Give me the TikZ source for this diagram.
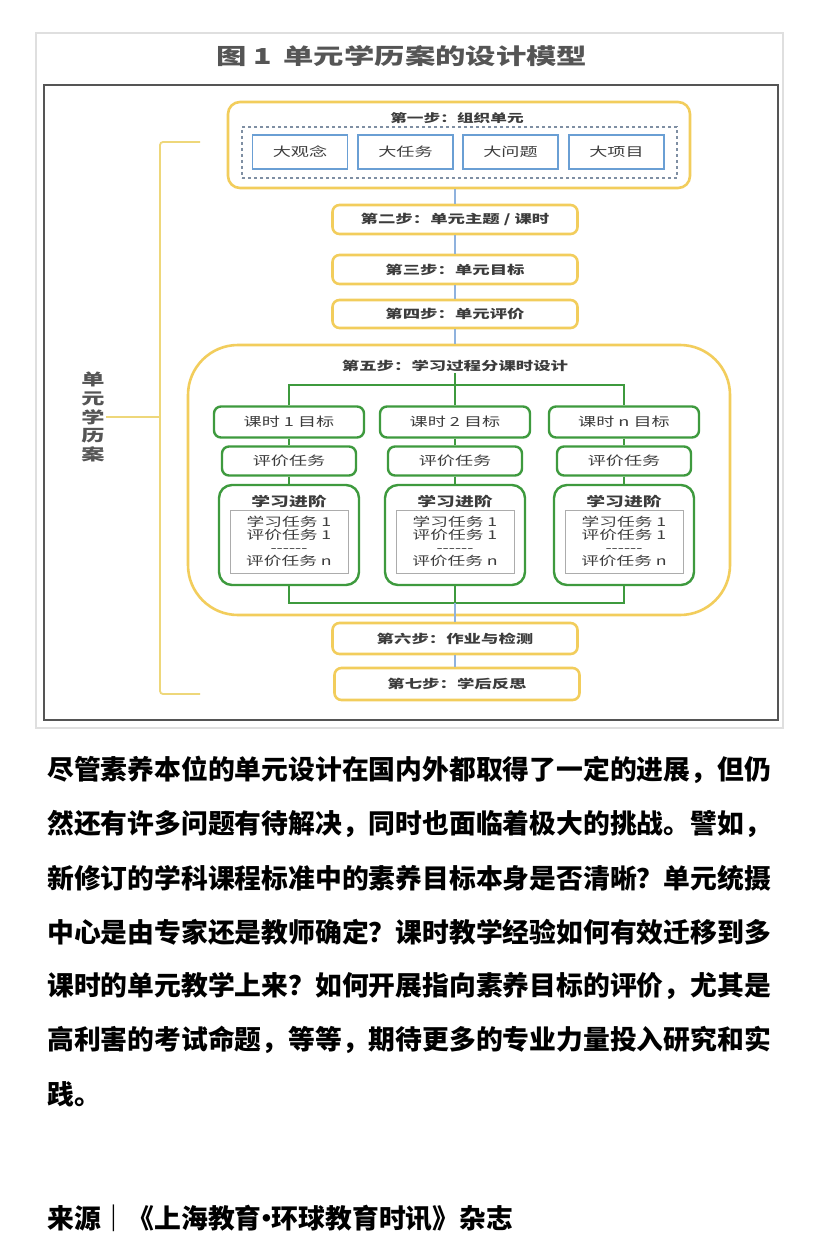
\documentclass[tikz,border=0pt]{standalone}
\usepackage{fontspec}
\newfontfamily\dgfont{Noto Sans CJK SC}[FakeStretch=1.45]
\newfontfamily\ttlfont{Noto Sans CJK SC}[FakeStretch=1.38]
\newfontfamily\txfont{Noto Sans CJK SC}
\definecolor{ylw}{HTML}{F2CD5C}
\definecolor{blu}{HTML}{6A9FD4}
\definecolor{lblu}{HTML}{8FB2DE}
\definecolor{grn}{HTML}{3E9A3E}
\definecolor{dgrey}{HTML}{3C3C3C}
\definecolor{ttlgrey}{HTML}{555555}
\definecolor{brkc}{HTML}{EED77A}
\definecolor{dashc}{HTML}{7F8FA3}
\tikzset{
  stepbox/.style={draw=ylw, line width=2.6pt, rounded corners=7pt, fill=white,
    minimum width=245pt, minimum height=29pt, inner sep=0pt,
    font=\dgfont\bfseries\fontsize{12}{14}\selectfont, text=dgrey},
  steplbl/.style={inner sep=1pt, font=\dgfont\bfseries\fontsize{12}{14}\selectfont, text=dgrey},
  bigbox/.style={draw=blu, line width=1.8pt, fill=white, minimum width=95pt,
    minimum height=34pt, inner sep=0pt, font=\dgfont\fontsize{12.5}{14}\selectfont, text=dgrey},
  gbox/.style={draw=grn, line width=2.4pt, rounded corners=7pt, fill=white,
    minimum width=150pt, minimum height=31pt, inner sep=0pt,
    font=\dgfont\fontsize{12.5}{14}\selectfont, text=dgrey},
  ebox/.style={gbox, minimum width=134pt, minimum height=29pt},
  pbox/.style={draw=grn, line width=2.4pt, rounded corners=13pt, fill=white,
    minimum width=140pt, minimum height=100pt, inner sep=0pt},
  ptitle/.style={inner sep=1pt, font=\dgfont\bfseries\fontsize{13}{15}\selectfont, text=dgrey},
  plist/.style={draw=gray!65, line width=1pt, fill=white, minimum width=118pt,
    minimum height=63pt, inner sep=0pt, align=center,
    font=\dgfont\fontsize{12.2}{12.8}\selectfont, text=dgrey},
  bline/.style={draw=lblu, line width=2.4pt},
  gline/.style={draw=grn, line width=2.5pt},
  brkline/.style={draw=brkc, line width=1.8pt},
  ptext/.style={anchor=west, inner sep=0pt, font=\txfont\bfseries\fontsize{26.8}{30}\selectfont, text=black}
}
\begin{document}
\begin{tikzpicture}[x=1pt,y=-1pt]
\fill[white] (0,0) rectangle (820,1257);
\useasboundingbox (0,0) rectangle (820,1257);

% frames
\draw[draw=gray!25, line width=1.2pt] (36,33) rectangle (783,728);
\draw[draw=ttlgrey, line width=2pt] (44,85) rectangle (778,720);

% title
\node[inner sep=0pt, font=\ttlfont\bfseries\fontsize{22}{24}\selectfont, text=ttlgrey] (title) at (402,56)
  {图\hspace{6pt}1\hspace{12pt}单元学历案的设计模型};

% bracket and side label
\node[inner sep=1pt, align=center, font=\dgfont\bfseries\fontsize{16}{18.6}\selectfont, text=ttlgrey] (lbl) at (93,417)
  {单\\元\\学\\历\\案};
\draw[brkline, rounded corners=3pt] (200,142) -- (160,142) -- (160,694) -- (200,694);
\coordinate (bm) at (160,417);
\draw[brkline] (bm) -- (lbl.east);

% step 1
\node[stepbox, minimum width=462pt, minimum height=86pt, rounded corners=12pt] (s1) at (459,145) {};
\node[steplbl, font=\dgfont\bfseries\fontsize{11.5}{13}\selectfont] (s1t) at (457,118) {第一步：组织单元};
\node[draw=dashc, dashed, line width=1.1pt, minimum width=435pt, minimum height=51pt, inner sep=0pt] (dsh) at (459.5,152.5) {};
\node[bigbox] (b1) at (300,152) {大观念};
\node[bigbox] (b2) at (405.5,152) {大任务};
\node[bigbox] (b3) at (510.5,152) {大问题};
\node[bigbox] (b4) at (616.5,152) {大项目};

% steps 2-4
\node[stepbox] (s2) at (455,219.5) {第二步：单元主题 / 课时};
\node[stepbox] (s3) at (455,269.5) {第三步：单元目标};
\node[stepbox, minimum height=28pt] (s4) at (455,314) {第四步：单元评价};

% step 5
\node[stepbox, minimum width=542pt, minimum height=270pt, rounded corners=50pt] (s5) at (459,480) {};
\node[steplbl] (s5t) at (455,366) {第五步：学习过程分课时设计};

\node[gbox] (g1) at (289,422) {课时 1 目标};
\node[gbox] (g2) at (455,422) {课时 2 目标};
\node[gbox] (g3) at (624,422) {课时 n 目标};

\node[ebox] (e1) at (289,461) {评价任务};
\node[ebox] (e2) at (455,461) {评价任务};
\node[ebox] (e3) at (624,461) {评价任务};

\node[pbox] (p1) at (289,535) {};
\node[pbox] (p2) at (455,535) {};
\node[pbox] (p3) at (624,535) {};
\node[ptitle] (pt1) at (289,502) {学习进阶};
\node[ptitle] (pt2) at (455,502) {学习进阶};
\node[ptitle] (pt3) at (624,502) {学习进阶};
\node[plist] (r1) at (289,541.5) {学习任务 1\\评价任务 1\\------\\评价任务 n};
\node[plist] (r2) at (455,541.5) {学习任务 1\\评价任务 1\\------\\评价任务 n};
\node[plist] (r3) at (624,541.5) {学习任务 1\\评价任务 1\\------\\评价任务 n};

% steps 6-7
\node[stepbox, minimum height=31pt] (s6) at (455,638.5) {第六步：作业与检测};
\node[stepbox, minimum height=32pt] (s7) at (457,684) {第七步：学后反思};

% connectors
\coordinate (tj) at (455,385);
\coordinate (bj) at (455,603);
\draw[bline] (s1.south -| s2.north) -- (s2.north);
\draw[bline] (s2) -- (s3);
\draw[bline] (s3) -- (s4);
\draw[bline] (s4.south) -- (s4.south |- s5.north);
\draw[gline] (s5t.south) -- (tj);
\draw[gline] (g1.north) |- (tj) -| (g3.north);
\draw[gline] (tj) -- (g2.north);
\draw[gline] (g1) -- (e1);
\draw[gline] (g2) -- (e2);
\draw[gline] (g3) -- (e3);
\draw[gline] (e1) -- (p1);
\draw[gline] (e2) -- (p2);
\draw[gline] (e3) -- (p3);
\draw[gline] (p1.south) |- (bj) -| (p3.south);
\draw[gline] (p2.south) -- (bj);
\draw[bline] (bj) -- (s6.north);
\draw[bline] (s6.south) -- (s6.south |- s7.north);

% paragraph
\node[ptext] (t1) at (47,770) {尽管素养本位的单元设计在国内外都取得了一定的进展，但仍};
\node[ptext] (t2) at (47,824) {然还有许多问题有待解决，同时也面临着极大的挑战。譬如，};
\node[ptext] (t3) at (47,878) {新修订的学科课程标准中的素养目标本身是否清晰？单元统摄};
\node[ptext] (t4) at (47,932) {中心是由专家还是教师确定？课时教学经验如何有效迁移到多};
\node[ptext] (t5) at (47,986) {课时的单元教学上来？如何开展指向素养目标的评价，尤其是};
\node[ptext] (t6) at (47,1040) {高利害的考试命题，等等，期待更多的专业力量投入研究和实};
\node[ptext] (t7) at (47,1094) {践。};
\node[ptext] (src) at (47,1218) {来源｜《上海教育\makebox[0.38em][c]{•}环球教育时讯》杂志};
\end{tikzpicture}
\end{document}
